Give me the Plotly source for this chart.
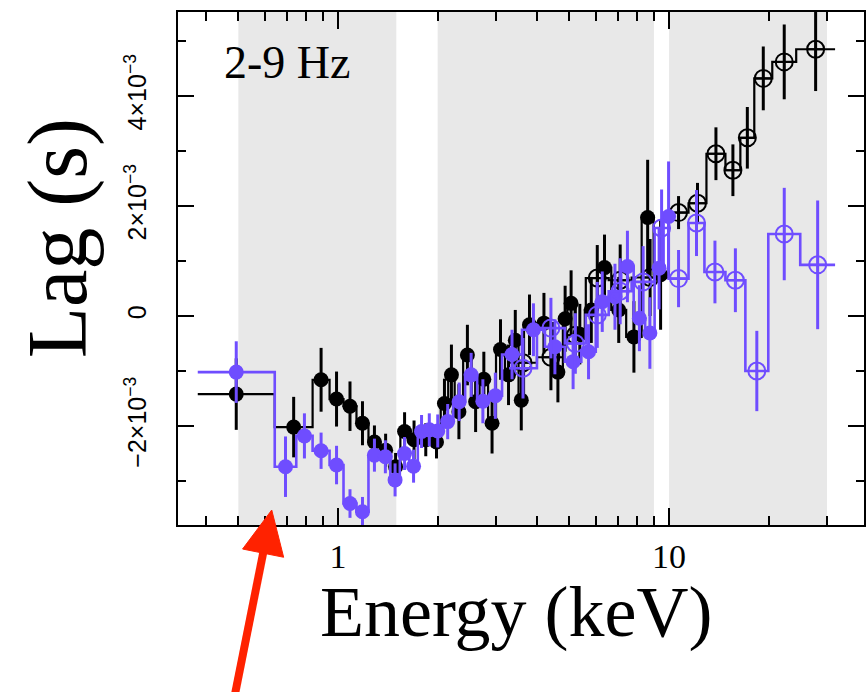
import numpy as np
import plotly.graph_objects as go

# ---------------- data (energies in keV, lags in units of 1e-3 s) ----------------
# Black, filled circles (low-energy instrument): bin edges, lags, errors
black_fill_edges = [0.377, 0.644, 0.838, 0.943, 1.039, 1.137, 1.236, 1.343, 1.444, 1.543,
                    1.636, 1.760, 1.926, 2.043, 2.152, 2.251, 2.388, 2.533, 2.677, 2.840,
                    3.001, 3.195, 3.355, 3.510, 3.646, 3.934, 4.459, 4.778, 4.930, 5.192,
                    5.566, 6.089, 6.690, 7.421, 8.265, 8.982, 9.897]
black_fill_lag = [-1.42, -2.02, -1.16, -1.51, -1.64, -1.95, -2.29, -2.44, -2.74, -2.10,
                  -2.25, -2.25, -2.29, -1.59, -1.07, -1.74, -0.71, -1.56, -1.15, -1.95,
                  -0.61, -1.07, -0.44, -1.53, -0.16, -0.13, -1.02, -0.05, 0.23, -0.33,
                  0.11, 0.88, 0.11, -0.38, 1.79, 0.75]
black_fill_err = [0.65, 0.55, 0.58, 0.50, 0.45, 0.40, 0.30, 0.30, 0.25, 0.35,
                  0.35, 0.30, 0.30, 0.45, 0.55, 0.50, 0.55, 0.55, 0.50, 0.55,
                  0.55, 0.55, 0.55, 0.55, 0.55, 0.55, 0.55, 0.60, 0.60, 0.55,
                  0.60, 0.60, 0.60, 0.65, 1.05, 1.00]

# Black, open circles (high-energy instrument)
black_open_edges = [3.286, 3.990, 4.845, 5.604, 6.573, 7.709, 9.966, 11.45, 12.97,
                    14.80, 16.42, 18.09, 20.50, 24.21, 31.73]
black_open_lag = [-0.85, -0.75, -0.35, 0.69, 0.65, 0.70, 1.88, 2.05, 2.95, 2.65,
                  3.24, 4.32, 4.62, 4.85]
black_open_err = [0.60, 0.60, 0.60, 0.60, 0.65, 0.70, 0.30, 0.37, 0.48, 0.47,
                  0.56, 0.58, 0.68, 0.76]

# Purple, filled circles
purple_fill_edges = [0.377, 0.644, 0.748, 0.838, 0.943, 1.039, 1.137, 1.236, 1.343, 1.439,
                     1.537, 1.642, 1.742, 1.835, 1.940, 2.064, 2.228, 2.421, 2.632, 2.850,
                     3.130, 3.595, 4.217, 4.845, 5.432, 6.006, 6.573, 7.168, 7.818, 8.467,
                     9.044, 9.625, 10.32]
purple_fill_lag = [-1.02, -2.74, -2.18, -2.45, -2.71, -3.41, -3.56, -2.53, -2.56, -2.98,
                   -2.50, -2.73, -2.10, -2.07, -2.09, -1.92, -1.56, -1.07, -1.55, -1.45,
                   -0.70, -0.25, -0.56, -0.83, -0.65, 0.26, 0.35, 0.90, -0.04, -0.31,
                   0.87, 1.81]
purple_fill_err = [0.56, 0.55, 0.41, 0.33, 0.35, 0.26, 0.27, 0.30, 0.30, 0.30,
                   0.30, 0.30, 0.30, 0.30, 0.30, 0.32, 0.35, 0.40, 0.40, 0.42,
                   0.45, 0.48, 0.50, 0.50, 0.50, 0.55, 0.60, 0.65, 0.60, 0.65,
                   0.75, 1.00]

# Purple, open circles
purple_open_edges = [3.286, 3.990, 4.845, 5.604, 6.573, 7.709, 9.044, 9.966, 11.45,
                     12.79, 14.80, 17.00, 19.94, 24.90, 31.73]
purple_open_lag = [-0.95, -0.22, -0.50, 0.02, 0.45, 0.62, 1.60, 0.68, 1.69, 0.80,
                   0.65, -1.00, 1.49, 0.93]
purple_open_err = [0.55, 0.55, 0.55, 0.60, 0.60, 0.65, 0.70, 0.52, 0.60, 0.57,
                   0.58, 0.73, 0.84, 1.17]

# shaded energy bands (keV)
bands = [(0.5, 1.5), (2.0, 9.0), (10.0, 30.0)]

x_tick_vals = [1, 10]
x_tick_text = ["1", "10"]
x_minor_vals = [0.4, 0.5, 0.6, 0.7, 0.8, 0.9, 2, 3, 4, 5, 6, 7, 8, 9, 20, 30]
y_tick_vals = [-2e-3, 0, 2e-3, 4e-3]
y_tick_text = ["\u22122\u00d710<sup>\u22123</sup>", "0",
               "2\u00d710<sup>\u22123</sup>", "4\u00d710<sup>\u22123</sup>"]
y_minor_vals = [-3e-3, -1e-3, 1e-3, 3e-3, 5e-3]

BLACK = "#000000"
PURPLE = "#6f4dff"

fig = go.Figure()


def add_series(edges, lag_ms, err_ms, color, symbol, size, lw):
    edges = np.asarray(edges, float)
    lag = np.asarray(lag_ms, float) * 1e-3
    err = np.asarray(err_ms, float) * 1e-3
    lo, hi = edges[:-1], edges[1:]
    centers = np.sqrt(lo * hi)
    # step line across bins
    sx, sy = [], []
    for a, b, v in zip(lo, hi, lag):
        sx += [a, b]
        sy += [v, v]
    fig.add_trace(go.Scatter(x=sx, y=sy, mode="lines",
                             line=dict(color=color, width=lw), hoverinfo="skip",
                             showlegend=False))
    marker = dict(color=color, size=size, symbol=symbol)
    if "open" in symbol:
        marker["line"] = dict(color=color, width=2)
    fig.add_trace(go.Scatter(x=centers, y=lag, mode="markers", marker=marker,
                             error_y=dict(type="data", array=err, color=color,
                                          thickness=3, width=0),
                             showlegend=False))


add_series(black_fill_edges, black_fill_lag, black_fill_err, BLACK, "circle", 15, 2.2)
add_series(black_open_edges, black_open_lag, black_open_err, BLACK, "circle-cross-open", 17, 2.2)
add_series(purple_fill_edges, purple_fill_lag, purple_fill_err, PURPLE, "circle", 15, 2.6)
add_series(purple_open_edges, purple_open_lag, purple_open_err, PURPLE, "circle-cross-open", 17, 2.6)

shapes = []
for a, b in bands:
    shapes.append(dict(type="rect", xref="x", yref="paper", x0=a, x1=b, y0=0, y1=1,
                       fillcolor="#e8e8e8", line=dict(width=0), layer="below"))

# ---- layout geometry (pixels) ----
W, H = 866, 692
L, R, T, B = 178, 0, 12, 167
PW, PH = W - L - R, H - T - B


def px(xp):
    return (xp - L) / PW


def py(yp):
    return (H - B - yp) / PH


# red arrow (decoration below the axis)
tail = np.array([234.0, 700.0])
tip = np.array([272.0, 510.0])
u = (tip - tail) / np.linalg.norm(tip - tail)
perp = np.array([-u[1], u[0]])
base = tip - 44 * u
p1 = base + 21 * perp
p2 = base - 21 * perp
shapes.append(dict(type="line", xref="paper", yref="paper",
                   x0=px(tail[0]), y0=py(tail[1]), x1=px(base[0] + 2 * u[0]), y1=py(base[1] + 2 * u[1]),
                   line=dict(color="#ff2200", width=8)))
path = "M {} {} L {} {} L {} {} Z".format(px(tip[0]), py(tip[1]), px(p1[0]), py(p1[1]),
                                         px(p2[0]), py(p2[1]))
shapes.append(dict(type="path", xref="paper", yref="paper", path=path,
                   fillcolor="#ff2200", line=dict(color="#ff2200", width=1)))

serif = "Liberation Serif, Times New Roman, serif"
sans = "Liberation Sans, Arial, sans-serif"

annotations = [
    dict(text="2-9 Hz", x=px(287), y=py(62), xref="paper", yref="paper", showarrow=False,
         xanchor="center", yanchor="middle",
         font=dict(family=serif, size=46, color="black")),
    dict(text="Energy (keV)", x=px(517), y=py(612), xref="paper", yref="paper", showarrow=False,
         xanchor="center", yanchor="middle",
         font=dict(family=serif, size=72, color="black")),
    dict(text="Lag (s)", x=px(58), y=py(238), xref="paper", yref="paper", showarrow=False,
         xanchor="center", yanchor="middle",
         textangle=-90, font=dict(family=serif, size=84, color="black")),
]

fig.update_layout(
    width=W, height=H,
    margin=dict(l=L, r=R, t=T, b=B, pad=0),
    paper_bgcolor="white", plot_bgcolor="white",
    shapes=shapes, annotations=annotations,
    showlegend=False,
)

fig.update_xaxes(
    type="log", range=[np.log10(0.3286), np.log10(38.8)],
    showgrid=False, zeroline=False,
    showline=True, linecolor="black", linewidth=2, mirror="ticks",
    ticks="inside", ticklen=17, tickwidth=2, tickcolor="black",
    tickvals=x_tick_vals, ticktext=x_tick_text,
    tickfont=dict(family=serif, size=34, color="black"),
    ticklabelstandoff=0,
    minor=dict(tickvals=x_minor_vals, ticks="inside", ticklen=9, tickwidth=2,
               tickcolor="black", showgrid=False),
)
fig.update_yaxes(
    range=[-3.80e-3, 5.527e-3],
    showgrid=False, zeroline=False,
    showline=True, linecolor="black", linewidth=2, mirror="ticks",
    ticks="inside", ticklen=16, tickwidth=2, tickcolor="black",
    tickvals=y_tick_vals, ticktext=y_tick_text, tickangle=-90,
    tickfont=dict(family=sans, size=25, color="black"),
    ticklabelstandoff=20,
    minor=dict(tickvals=y_minor_vals, ticks="inside", ticklen=8, tickwidth=2,
               tickcolor="black", showgrid=False),
)

fig.write_html("out.html")
